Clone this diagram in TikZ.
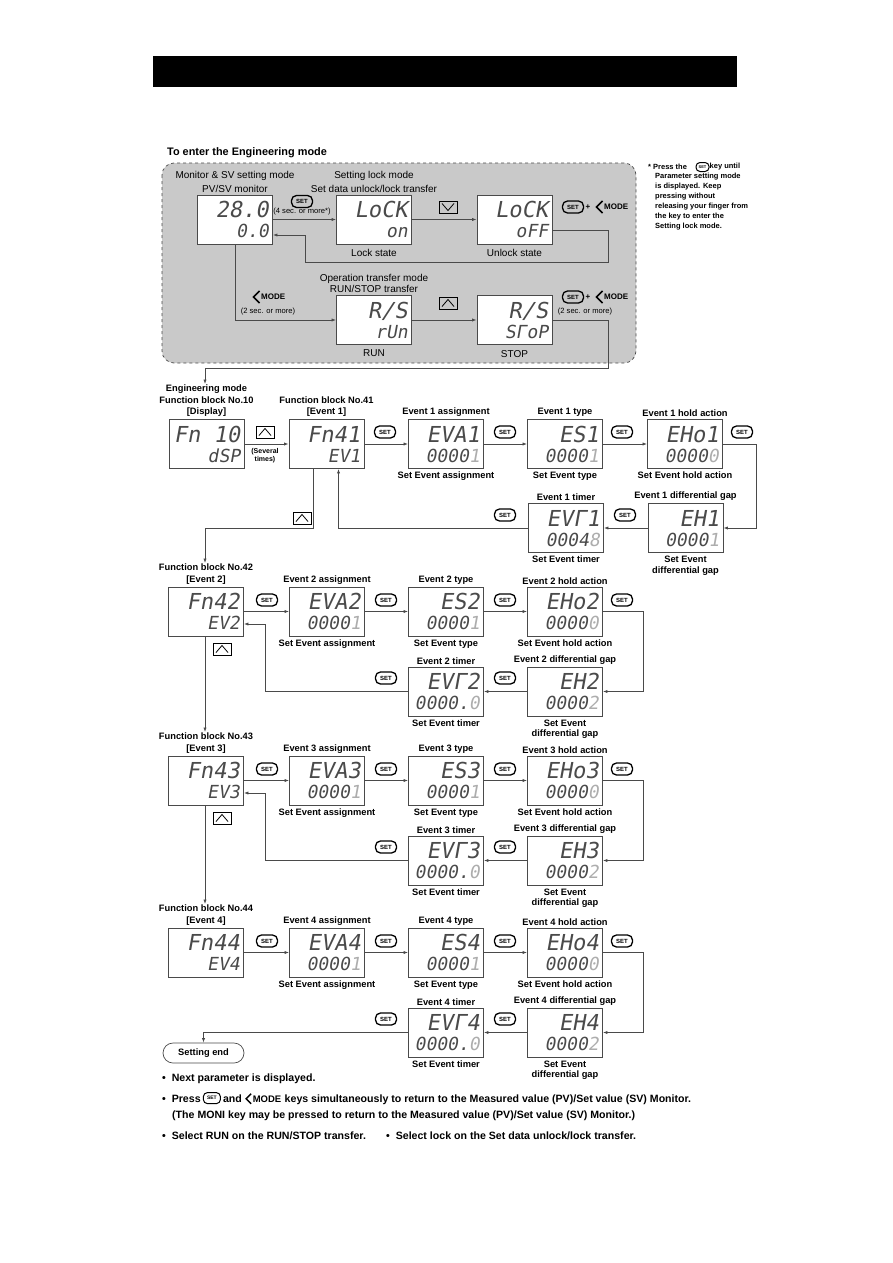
\documentclass[tikz,border=0pt]{standalone}
\usepackage{fontspec}
\setmainfont{Liberation Sans}
\newfontfamily\segfont{DejaVu Sans Mono}[FakeSlant=0.18]
\usepackage{xcolor}
\usepackage{tikz}
\usetikzlibrary{arrows.meta,positioning,calc,shapes.misc}
\definecolor{cPanel}{HTML}{C9C9C9}
\definecolor{cLine}{HTML}{4A4A4A}
\definecolor{cSeg}{HTML}{4A4A4A}
\definecolor{cCur}{HTML}{ADADAD}
\newcommand{\cur}[1]{\textcolor{cCur}{#1}}
\tikzset{
  lcd/.style={draw=cLine,fill=white,line width=0.8pt,minimum width=75pt,minimum height=49pt,inner sep=0pt},
  segup/.style={font=\segfont\fontsize{22}{22}\selectfont,text=cSeg,inner sep=0pt,anchor=base east},
  seglo/.style={font=\segfont\fontsize{18}{18}\selectfont,text=cSeg,inner sep=0pt,anchor=base east},
  lbl/.style={font=\bfseries\fontsize{9.3}{11.5}\selectfont,align=center,inner sep=1pt},
  tlbl/.style={font=\fontsize{10}{14}\selectfont,align=center,inner sep=1pt},
  tiny/.style={font=\fontsize{7.6}{9}\selectfont,inner sep=0pt},
  note/.style={font=\bfseries\fontsize{10.6}{12}\selectfont,inner sep=0pt},
  sidenote/.style={font=\bfseries\fontsize{7.5}{10}\selectfont,inner sep=0pt},
  setkey/.style={draw=black,rounded corners=5pt,line width=1.3pt,minimum width=21pt,minimum height=12pt,inner sep=0pt,font=\bfseries\fontsize{6}{6}\selectfont},
  minikey/.style={setkey,rounded corners=4pt,line width=1pt,minimum width=17pt,minimum height=11pt,font=\bfseries\fontsize{5}{5}\selectfont},
  modetxt/.style={font=\bfseries\fontsize{8}{8}\selectfont,inner sep=0pt},
  chev/.style={line width=1.7pt},
  conn/.style={draw=cLine,line width=0.75pt},
  arr/.style={conn,-{Latex[length=4.5pt,width=3.2pt]}},
  panel/.style={draw=cLine,dashed,fill=cPanel,rounded corners=12pt,line width=0.7pt},
  keybox/.style={draw=black,line width=0.8pt},
  upkey/.pic={\draw[keybox] (-9,-6) rectangle (9,6); \draw[keybox] (-6,3.5) -- (0,-3.5) -- (6,3.5);},
  downkey/.pic={\draw[keybox] (-9,-6) rectangle (9,6); \draw[keybox] (-6,-3.5) -- (0,3.5) -- (6,-3.5);},
}
\newcommand{\lcd}[5]{%
  \node[lcd] (#1) at (#2,#3) {};
  \node[segup] (#1-u) at ([xshift=-4pt,yshift=-23pt]#1.north east) {#4};
  \node[seglo] (#1-l) at ([xshift=-4pt,yshift=-43pt]#1.north east) {#5};
}
\newcommand{\modekey}[3]{%
  \node[modetxt,anchor=west] (#1) at (#2,#3) {MODE};
  \draw[chev] ([xshift=-1.5pt,yshift=6pt]#1.west) -- ++(-6pt,-6pt) -- ++(6pt,-6pt);
}

\begin{document}
\begin{tikzpicture}[x=1pt,y=-1pt]
  \useasboundingbox (0,0) rectangle (893,1263);
  \fill (153,56) rectangle (737,87);
  \node[font=\bfseries\fontsize{10.9}{12}\selectfont,anchor=west,inner sep=0pt] (ttl) at (167,153) {To enter the Engineering mode};
  \draw[panel] (162,163) rectangle (636,363);

  \lcd{pv}{235}{219.5}{28.0}{0.0}
  \lcd{lkon}{374}{219.5}{LoCK}{on}
  \lcd{lkoff}{514.5}{219.5}{LoCK}{oFF}
  \lcd{run}{374}{320}{R/S}{rUn}
  \lcd{stop}{514.5}{320}{R/S}{SΓoP}
  \node[tlbl,above=1pt of pv] (pvt) {Monitor \& SV setting mode\\PV/SV monitor};
  \node[tlbl,above=1pt of lkon] (lkt) {Setting lock mode\\Set data unlock/lock transfer};
  \node[tlbl,below=4pt of lkon] (lkonb) {Lock state};
  \node[tlbl,below=4pt of lkoff] (lkoffb) {Unlock state};
  \node[tlbl,above=1pt of run,font=\fontsize{10}{11}\selectfont] (runt) {Operation transfer mode\\RUN/STOP transfer};
  \node[tlbl,below=4pt of run] (runb) {RUN};
  \node[tlbl,below=4pt of stop] (stopb) {STOP};

  \node[setkey] (k0a) at (302,201.5) {SET};
  \node[tiny] (k0at) at (302,212) {(4 sec. or more*)};
  \pic at (448,207) {downkey};
  \node[setkey] (k0b) at (573,207) {SET};
  \node[modetxt] (p0b) at (588,207) {+};
  \modekey{m0b}{604}{207}
  \modekey{m0a}{261}{297}
  \node[tiny] (m0at) at (268,312) {(2 sec. or more)};
  \pic at (448,303) {upkey};
  \node[setkey] (k0c) at (573,297) {SET};
  \node[modetxt] (p0c) at (588,297) {+};
  \modekey{m0c}{604}{297}
  \node[tiny] (m0ct) at (585,312) {(2 sec. or more)};

  \node[sidenote,anchor=west] (n1) at (648,167) {* Press the};
  \node[minikey,minimum width=13pt,minimum height=9pt,font=\bfseries\fontsize{4}{4}\selectfont] (n1k) at (702.5,167) {SET};
  \node[sidenote,anchor=west] (n1b) at (709.5,167) {key until};
  \node[sidenote,anchor=north west,align=left] (n2) at (655,172.5) {Parameter setting mode\\is displayed. Keep\\pressing without\\releasing your finger from\\the key to enter the\\Setting lock mode.};

  \coordinate (lkr) at (608,262);
  \coordinate (lkl) at (305,262);
  \coordinate (engr) at (608,368);
  \coordinate (engl) at (205,368);
  \draw[arr] (pv.east) -- (lkon.west);
  \draw[arr] (lkon) -- (lkoff);
  \draw[arr] ([yshift=-10.5pt]lkoff.east) -| (lkr) -- (lkl) |- ([yshift=-15.5pt]pv.east);
  \draw[arr] (pv.south) |- (run.west);
  \draw[arr] (run) -- (stop);

  \lcd{fn10}{206.5}{444}{Fn 10}{dSP}
  \lcd{fn41}{326.5}{444}{Fn41}{EV1}
  \lcd{eva1}{446}{444}{EVA1}{0000\cur{1}}
  \lcd{es1}{565}{444}{ES1}{0000\cur{1}}
  \lcd{eho1}{685}{444}{EHo1}{0000\cur{0}}
  \lcd{eh1}{685.5}{528}{EH1}{0000\cur{1}}
  \lcd{evt1}{566}{528}{EVΓ1}{0004\cur{8}}
  \node[lbl,above=1pt of fn10] (fn10t) {Engineering mode\\Function block No.10\\{[Display]}};
  \node[lbl,above=1pt of fn41] (fnt1) {Function block No.41\\{[Event 1]}};
  \node[lbl,above=1pt of eva1] (eva1a) {Event 1 assignment};
  \node[lbl,below=2pt of eva1] (eva1b) {Set Event assignment};
  \node[lbl,above=1pt of es1] (es1a) {Event 1 type};
  \node[lbl,below=2pt of es1] (es1b) {Set Event type};
  \node[lbl,above=1pt of eho1] (eho1a) {Event 1 hold action};
  \node[lbl,below=2pt of eho1] (eho1b) {Set Event hold action};
  \node[lbl,above=1pt of eh1] (eh1a) {Event 1 differential gap};
  \node[lbl,below=2pt of eh1,font=\bfseries\fontsize{9.3}{10.5}\selectfont] (eh1b) {Set Event\\differential gap};
  \node[lbl,above=1pt of evt1] (evt1a) {Event 1 timer};
  \node[lbl,below=2pt of evt1] (evt1b) {Set Event timer};
  \pic at (265,432) {upkey};
  \node[font=\bfseries\fontsize{7}{8}\selectfont,align=center,inner sep=0pt] (sev) at (265,456) {(Several\\times)};
  \foreach \kx/\ky [count=\i] in {385/432,505/432,622/432,742/432,625/515,505/515}
    \node[setkey] (k1-\i) at (\kx,\ky) {SET};
  \pic at (302,518) {upkey};

  \foreach \n/\t in {2/587,3/756,4/928}{
    \lcd{fn\n}{206}{\t+24.5}{Fn4\n}{EV\n}
    \lcd{eva\n}{327}{\t+24.5}{EVA\n}{0000\cur{1}}
    \lcd{es\n}{446}{\t+24.5}{ES\n}{0000\cur{1}}
    \lcd{eho\n}{565}{\t+24.5}{EHo\n}{0000\cur{0}}
    \lcd{eh\n}{565}{\t+104.5}{EH\n}{0000\cur{2}}
    \lcd{evt\n}{446}{\t+104.5}{EVΓ\n}{0000.\cur{0}}
    \node[lbl,above=1pt of fn\n] (fnt\n) {Function block No.4\n\\{[Event \n]}};
    \node[lbl,above=1pt of eva\n] (eva\n a) {Event \n\ assignment};
    \node[lbl,below=2pt of eva\n] (eva\n b) {Set Event assignment};
    \node[lbl,above=1pt of es\n] (es\n a) {Event \n\ type};
    \node[lbl,below=2pt of es\n] (es\n b) {Set Event type};
    \node[lbl,above=1pt of eho\n] (eho\n a) {Event \n\ hold action};
    \node[lbl,below=2pt of eho\n] (eho\n b) {Set Event hold action};
    \node[lbl,above=1pt of eh\n] (eh\n a) {Event \n\ differential gap};
    \node[lbl,below=2pt of eh\n,font=\bfseries\fontsize{9.3}{10.5}\selectfont] (eh\n b) {Set Event\\differential gap};
    \node[lbl,above=1pt of evt\n] (evt\n a) {Event \n\ timer};
    \node[lbl,below=2pt of evt\n] (evt\n b) {Set Event timer};
    \foreach \kx/\ky [count=\i] in {267/13,386/13,505/13,622/13,505/91,386/91}
      \node[setkey] (k\n-\i) at (\kx,\t+\ky) {SET};
    \ifnum\n<4 \pic at (222,\t+62) {upkey};\fi
  }
  \node[lbl,draw=cLine,line width=0.7pt,rounded rectangle,minimum width=83pt,minimum height=20pt] (setend) at (203.5,1053) {Setting end};

  \draw[arr] (stop.east) -| (engr) -- (engl) -- (engl |- fn10t.north);
  \draw[arr] (fn10) -- (fn41);
  \draw[arr] (fn41) -- (eva1);
  \draw[arr] (eva1) -- (es1);
  \draw[arr] (es1) -- (eho1);
  \draw[arr] (eho1.east) -- ++(33.5,0) |- (eh1.east);
  \draw[arr] (eh1) -- (evt1);
  \draw[arr] (evt1.west) -| ([xshift=12pt]fn41.south);
  \coordinate (d41) at (205,528);
  \draw[arr] ([xshift=-13.5pt]fn41.south) |- (d41) -- (d41 |- fnt2.north);
  \foreach \n in {2,3,4}{
    \draw[arr] (fn\n) -- (eva\n);
    \draw[arr] (eva\n) -- (es\n);
    \draw[arr] (es\n) -- (eho\n);
    \draw[arr] (eho\n.east) -- ++(40.5,0) |- (eh\n.east);
    \draw[arr] (eh\n) -- (evt\n);
  }
  \foreach \n [evaluate=\n as \m using int(\n+1)] in {2,3}{
    \draw[arr] (evt\n.west) -| ([xshift=21pt,yshift=-12.5pt]fn\n.east) -- ([yshift=-12.5pt]fn\n.east);
    \draw[arr] ([xshift=-1pt]fn\n.south) -- ([xshift=-1pt]fn\n.south |- fnt\m.north);
  }
  \draw[arr] (evt4.west) -| (setend.north);

  \node[note,anchor=base west] (f1) at (162,1081) {\textbullet\ \ Next parameter is displayed.};
  \node[note,anchor=base west] (f2) at (162,1102) {\textbullet\ \ Press};
  \node[minikey,anchor=west] (f2k) at ([xshift=2pt,yshift=3.9pt]f2.base east) {SET};
  \node[note,anchor=base west] (f2b) at ([xshift=2pt]f2k.east |- f2.base) {and};
  \node[modetxt,anchor=base west,font=\bfseries\fontsize{9.5}{9.5}\selectfont] (f2m) at ([xshift=10.5pt]f2b.base east) {MODE};
  \draw[chev,line width=1.5pt] ([xshift=-1.5pt,yshift=5pt]f2m.west) -- ++(-5pt,-5pt) -- ++(5pt,-5pt);
  \node[note,anchor=base west] (f2c) at ([xshift=3pt]f2m.base east) {keys simultaneously to return to the Measured value (PV)/Set value (SV) Monitor.};
  \node[note,anchor=base west] (f3) at (172,1118) {(The \textbf{MONI} key may be pressed to return to the Measured value (PV)/Set value (SV) Monitor.)};
  \node[note,anchor=base west] (f4) at (162,1139) {\textbullet\ \ Select RUN on the RUN/STOP transfer.};
  \node[note,anchor=base west] (f5) at (386,1139) {\textbullet\ \ Select lock on the Set data unlock/lock transfer.};
\end{tikzpicture}
\end{document}
